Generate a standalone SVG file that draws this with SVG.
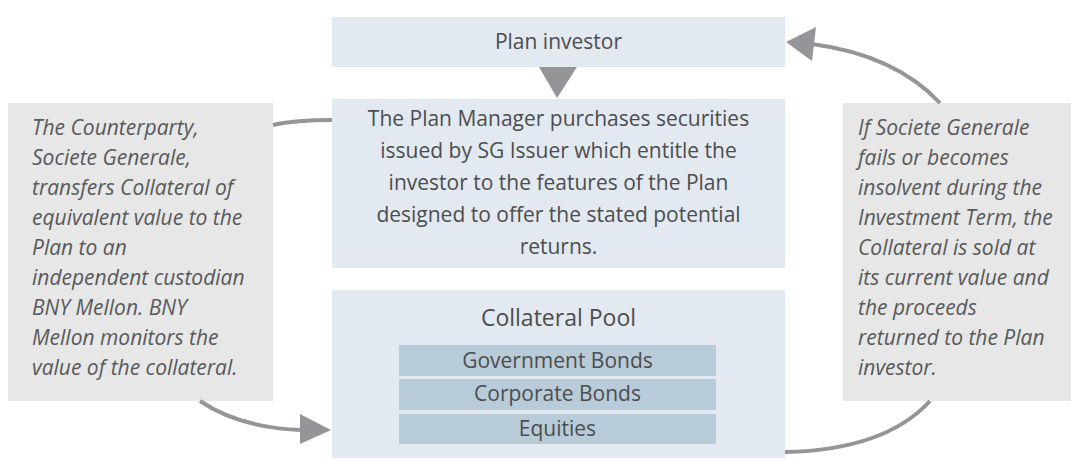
<svg xmlns="http://www.w3.org/2000/svg" width="1071" height="459" viewBox="0 0 1071 459">
<style>
.blue{fill:#e2e9f0}
.bar{fill:#b7cbd8}
.grey{fill:#e6e7e6}
.t{font-family:"Open Sans","Noto Sans",sans-serif;font-size:21px;fill:#4d4d4f}
.c{text-anchor:middle}
.i{font-style:italic;fill:#58595b}
.big{font-size:23px}
.conn{fill:none;stroke:#939598;stroke-width:4}
.head{fill:#939598}
</style>
<rect width="1071" height="459" fill="#ffffff"/>
<g id="plan-investor">
<rect class="blue" x="332" y="17" width="453" height="50"/>
<text class="t c" x="558.5" y="49">Plan investor</text>
</g>
<g id="plan-manager">
<rect class="blue" x="332" y="99" width="453" height="169"/>
<text class="t c" x="558.5" y="126">The Plan Manager purchases securities</text>
<text class="t c" x="558.5" y="158">issued by SG Issuer which entitle the</text>
<text class="t c" x="558.5" y="190">investor to the features of the Plan</text>
<text class="t c" x="558.5" y="222">designed to offer the stated potential</text>
<text class="t c" x="558.5" y="254">returns.</text>
</g>
<g id="collateral-pool">
<rect class="blue" x="332" y="290" width="453" height="168"/>
<text class="t c big" x="558.5" y="326">Collateral Pool</text>
<rect class="bar" x="399" y="345" width="317" height="31"/>
<text class="t c" x="557.5" y="368">Government Bonds</text>
<rect class="bar" x="399" y="379" width="317" height="31"/>
<text class="t c" x="557.5" y="401">Corporate Bonds</text>
<rect class="bar" x="399" y="414" width="317" height="30"/>
<text class="t c" x="557.5" y="436">Equities</text>
</g>
<g id="counterparty-note">
<rect class="grey" x="8" y="103" width="265" height="298"/>
<text class="t i" x="32" y="135">The Counterparty,</text>
<text class="t i" x="32" y="165">Societe Generale,</text>
<text class="t i" x="32" y="195">transfers Collateral of</text>
<text class="t i" x="32" y="225">equivalent value to the</text>
<text class="t i" x="32" y="255">Plan to an</text>
<text class="t i" x="32" y="285">independent custodian</text>
<text class="t i" x="32" y="315">BNY Mellon. BNY</text>
<text class="t i" x="32" y="345">Mellon monitors the</text>
<text class="t i" x="32" y="375">value of the collateral.</text>
</g>
<g id="default-note">
<rect class="grey" x="843" y="103" width="228" height="298"/>
<text class="t i" x="858" y="135">If Societe Generale</text>
<text class="t i" x="858" y="165">fails or becomes</text>
<text class="t i" x="858" y="195">insolvent during the</text>
<text class="t i" x="858" y="225">Investment Term, the</text>
<text class="t i" x="858" y="255">Collateral is sold at</text>
<text class="t i" x="858" y="285">its current value and</text>
<text class="t i" x="858" y="315">the proceeds</text>
<text class="t i" x="858" y="345">returned to the Plan</text>
<text class="t i" x="858" y="375">investor.</text>
</g>
<g id="connectors">
<polygon class="head" points="539,67 577,67 557,98"/>
<path class="conn" d="M273,125 Q295,120 332,120"/>
<path class="conn" d="M200,401 Q240,428 302,430"/>
<polygon class="head" points="300,414 331,430 300,444"/>
<path class="conn" d="M785,452 Q885,450 930,401"/>
<path class="conn" d="M940,103 Q895,55 812,44"/>
<polygon class="head" points="816,27 786,42 812,61"/>
</g>
</svg>
